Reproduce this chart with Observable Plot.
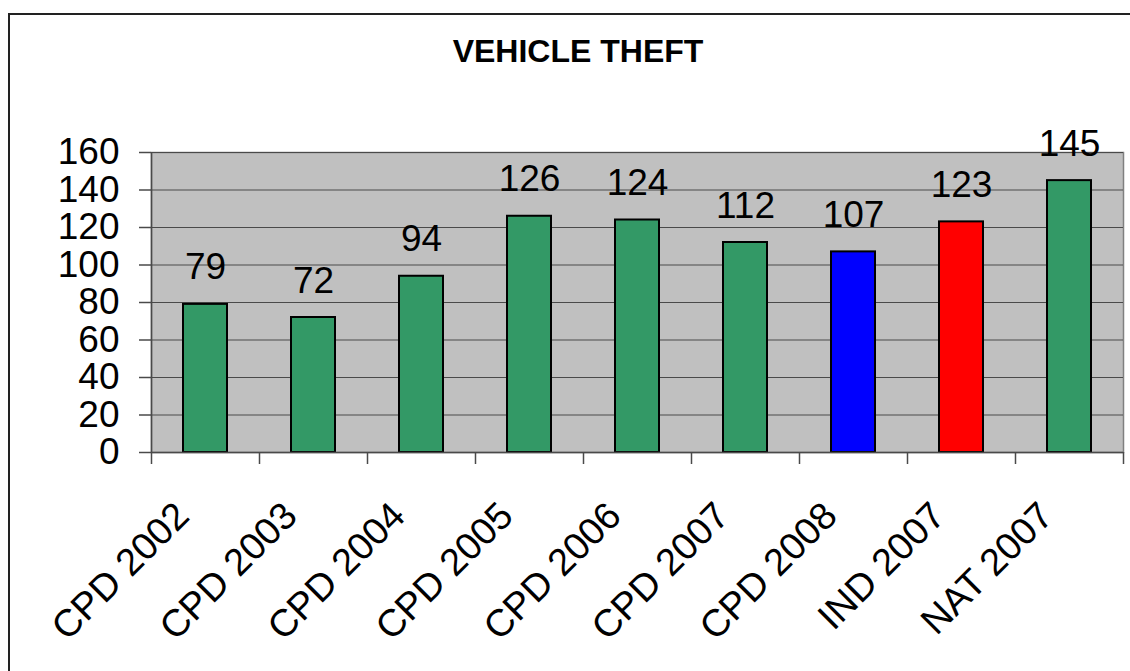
<!DOCTYPE html>
<html>
<head>
<meta charset="utf-8">
<script src="https://cdn.jsdelivr.net/npm/d3@7"></script>
<script src="https://cdn.jsdelivr.net/npm/@observablehq/plot@0.6"></script>
<style>
  html, body { margin: 0; padding: 0; background: #fff; overflow: hidden; }
  #wrap { position: relative; width: 1130px; height: 671px; overflow: hidden; font-family: "Liberation Sans", Arial, sans-serif; }
  #frame { position: absolute; left: 8px; top: 13px; width: 1200px; height: 800px; border: 2px solid #222; box-sizing: border-box; }
  #title { position: absolute; left: 0; width: 1156px; top: 35px; text-align: center; font-size: 32px; line-height: 32px; font-weight: bold; color: #000; }
  #chart { position: absolute; left: 0; top: 100px; }
</style>
</head>
<body>
<div id="wrap">
  <div id="frame"></div>
  <div id="title">VEHICLE THEFT</div>
  <div id="chart"></div>
</div>
<script>
const categories = ["CPD 2002", "CPD 2003", "CPD 2004", "CPD 2005", "CPD 2006", "CPD 2007", "CPD 2008", "IND 2007", "NAT 2007"];
const values = [79, 72, 94, 126, 124, 112, 107, 123, 145];
const yTicks = [0, 20, 40, 60, 80, 100, 120, 140, 160];

const data = categories.map((c, i) => ({category: c, value: values[i], i}));
const colorFor = c => c === "CPD 2008" ? "#0000ff" : c === "IND 2007" ? "#ff0000" : "#339966";

const font = "Liberation Sans, Arial, sans-serif";
const chart = Plot.plot({
  width: 1130,
  height: 571,
  marginLeft: 151,
  marginRight: 7,
  marginTop: 52,
  marginBottom: 219,
  style: {fontFamily: font, background: "transparent", color: "#000", overflow: "visible"},
  x: {domain: [0, categories.length], axis: null},
  y: {domain: [0, 160], axis: null},
  marks: [
    Plot.frame({fill: "#c0c0c0", stroke: "#808080", strokeWidth: 1.5}),
    Plot.gridY(yTicks, {stroke: "#4a4a4a", strokeOpacity: 1, strokeWidth: 1}),
    Plot.rectY(data, {
      x1: "i", x2: d => d.i + 1, y1: 0, y2: "value",
      insetLeft: 32, insetRight: 32,
      fill: d => colorFor(d.category), stroke: "#000", strokeWidth: 2
    }),
    Plot.text(data, {
      x: d => d.i + 0.5, y: "value", text: d => String(d.value),
      lineAnchor: "bottom", dy: -25, fontSize: 37, fill: "#000"
    }),
    Plot.ruleX([0], {stroke: "#4a4a4a", strokeWidth: 1.5}),
    Plot.ruleY([0], {stroke: "#4a4a4a", strokeWidth: 1.5}),
    Plot.axisY({ticks: yTicks, tickSize: 12, tickPadding: 20, fontSize: 37, stroke: "#4a4a4a", strokeWidth: 1.5, label: null, color: "#000"}),
    Plot.axisX({ticks: d3.range(0, categories.length + 1), tickSize: 12, tickFormat: () => "", stroke: "#4a4a4a", strokeWidth: 1.5, label: null}),
    Plot.text(data, {
      x: d => d.i + 0.5, frameAnchor: "bottom", text: "category",
      rotate: -45, textAnchor: "end", lineAnchor: "middle",
      dx: -23, dy: 57, fontSize: 38, fill: "#000"
    })
  ]
});
document.getElementById("chart").appendChild(chart);
</script>
</body>
</html>
